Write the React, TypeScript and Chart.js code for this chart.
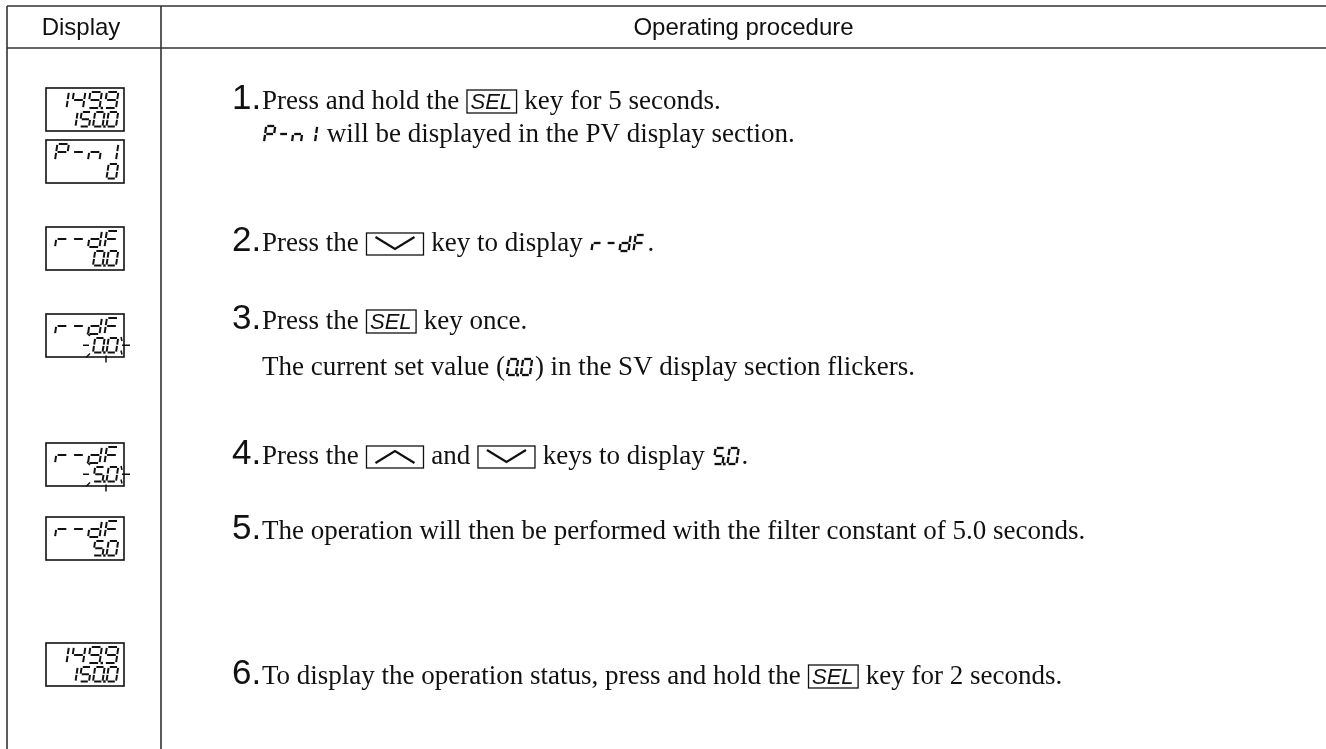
import React, { useEffect, useRef } from "react";
import { Chart, registerables } from "chart.js";

Chart.register(...registerables);

// ---------- content ----------
const columnHeaders = ["Display", "Operating procedure"];
const stepNumbers = ["1", "", "2", "3", "", "4", "5", "6"];

type Tok = [string, string];
const line1a: Tok[] = [["t", "Press and hold the "], ["key", "SEL"], ["t", " key for 5 seconds."]];
const line1b: Tok[] = [["seg", "P-n1"], ["t", " will be displayed in the PV display section."]];
const line2: Tok[] = [["t", "Press the "], ["down", ""], ["t", " key to display "], ["seg", "r-dF"], ["t", "."]];
const line3a: Tok[] = [["t", "Press the "], ["key", "SEL"], ["t", " key once."]];
const line3b: Tok[] = [["t", "The current set value ("], ["seg", "0.0"], ["t", ") in the SV display section flickers."]];
const line4: Tok[] = [["t", "Press the "], ["up", ""], ["t", " and "], ["down", ""], ["t", " keys to display "], ["seg", "5.0"], ["t", "."]];
const line5: Tok[] = [["t", "The operation will then be performed with the filter constant of 5.0 seconds."]];
const line6: Tok[] = [["t", "To display the operation status, press and hold the "], ["key", "SEL"], ["t", " key for 2 seconds."]];
const procedureLines: Tok[][] = [line1a, line1b, line2, line3a, line3b, line4, line5, line6];

const displayTop = ["149.9", "P-n1", "r-dF", "r-dF", "r-dF", "r-dF", "149.9"];
const displayBottom = ["150.0", "0", "0.0", "0.0", "5.0", "5.0", "150.0"];
const displayFlicker = [false, false, false, true, true, false, false];

// ---------- layout (axis units = page pixels) ----------
const PAGE_W = 1326;
const PAGE_H = 749;
const TABLE_LEFT = 7;
const TABLE_TOP = 6;
const HEADER_BOTTOM = 48;
const COL_DIVIDER = 161;
const NUM_X = 232;
const TEXT_X = 262;
const lineBaselines = [109, 142, 251, 329, 375, 464, 539, 684];
const boxTops = [88, 140, 227, 314, 443, 517, 643];
const BOX_LEFT = 46;
const BOX_RIGHT = 124;
const BOX_H = 43;

const SERIF = "'Liberation Serif', 'Times New Roman', serif";
const SANS = "'Liberation Sans', Arial, sans-serif";

const SEGS: Record<string, string> = {
  "0": "abcdef", "1": "bc", "2": "abdeg", "3": "abcdg", "4": "bcfg", "5": "acdfg",
  "6": "acdefg", "7": "abc", "8": "abcdefg", "9": "abcdfg", P: "abefg", "-": "g",
  n: "ceg", r: "eg", d: "bcdeg", F: "aefg",
};
const SEG_PTS: Record<string, number[][]> = {
  a: [[0.12, 0], [0.88, 0]],
  b: [[1, 0.06], [1, 0.45]],
  c: [[1, 0.55], [1, 0.94]],
  d: [[0.12, 1], [0.88, 1]],
  e: [[0, 0.55], [0, 0.94]],
  f: [[0, 0.06], [0, 0.45]],
  g: [[0.12, 0.5], [0.88, 0.5]],
};

type Glyph = { ch: string; dp: boolean };
function parseSeg(s: string): Glyph[] {
  const out: Glyph[] = [];
  for (const ch of s) {
    if (ch === "." && out.length) out[out.length - 1].dp = true;
    else out.push({ ch, dp: false });
  }
  return out;
}

function drawGlyph(ctx: CanvasRenderingContext2D, g: Glyph, x: number, top: number, w: number, h: number, lw: number, k: number) {
  const P = (u: number, v: number) => [x + u * w + (1 - v) * h * k, top + v * h];
  ctx.lineWidth = lw;
  ctx.lineCap = "butt";
  for (const s of SEGS[g.ch] || "") {
    const [[u1, v1], [u2, v2]] = SEG_PTS[s];
    const [x1, y1] = P(u1, v1);
    const [x2, y2] = P(u2, v2);
    ctx.beginPath();
    ctx.moveTo(x1, y1);
    ctx.lineTo(x2, y2);
    ctx.stroke();
  }
  if (g.dp) {
    const [dx, dy] = P(1 + 0.2, 1);
    ctx.fillRect(dx - lw * 0.6, dy - lw * 0.6, lw * 1.2, lw * 1.2);
  }
}

function drawSegRowRight(ctx: CanvasRenderingContext2D, str: string, rightX: number, top: number, w: number, h: number, pitch: number, lw: number, k: number) {
  const gl = parseSeg(str);
  const n = gl.length;
  gl.forEach((g, i) => {
    const x = rightX - (n - i) * pitch + (pitch - w);
    drawGlyph(ctx, g, x, top, w, h, lw, k);
  });
  return { x0: rightX - n * pitch + (pitch - w), x1: rightX };
}

function drawSegInline(ctx: CanvasRenderingContext2D, str: string, x: number, baseline: number) {
  const gl = parseSeg(str);
  const h = 16, w = 9, pitch = 14, k = 0.14;
  gl.forEach((g, i) => drawGlyph(ctx, g, x + 2 + i * pitch, baseline - h, w, h, 2.3, k));
  return gl.length * pitch + 2;
}

const tablePlugin = {
  id: "procedureTable",
  afterDraw(chart: any) {
    const ctx: CanvasRenderingContext2D = chart.ctx;
    const xs = chart.scales.x;
    const ys = chart.scales.y;
    const X = (v: number) => xs.getPixelForValue(v);
    const Y = (v: number) => ys.getPixelForValue(v);
    ctx.save();
    ctx.fillStyle = "#ffffff";
    ctx.fillRect(0, 0, chart.width, chart.height);

    // grid lines
    ctx.strokeStyle = "#333";
    ctx.lineWidth = 1.6;
    const hLine = (y: number) => { ctx.beginPath(); ctx.moveTo(X(TABLE_LEFT), Y(y)); ctx.lineTo(X(PAGE_W), Y(y)); ctx.stroke(); };
    const vLine = (x: number) => { ctx.beginPath(); ctx.moveTo(X(x), Y(TABLE_TOP)); ctx.lineTo(X(x), Y(PAGE_H)); ctx.stroke(); };
    hLine(TABLE_TOP);
    hLine(HEADER_BOTTOM);
    vLine(TABLE_LEFT);
    vLine(COL_DIVIDER);

    // headers
    ctx.fillStyle = "#111";
    ctx.font = `24px ${SANS}`;
    ctx.textAlign = "center";
    ctx.textBaseline = "middle";
    ctx.fillText(columnHeaders[0], X(81), Y((TABLE_TOP + HEADER_BOTTOM) / 2 + 1));
    ctx.fillText(columnHeaders[1], X((COL_DIVIDER + PAGE_W) / 2), Y((TABLE_TOP + HEADER_BOTTOM) / 2 + 1));

    // display boxes
    ctx.strokeStyle = "#111";
    ctx.fillStyle = "#111";
    displayTop.forEach((top, i) => {
      const bt = Y(boxTops[i]);
      const bl = X(BOX_LEFT), br = X(BOX_RIGHT);
      const bh = Y(boxTops[i] + BOX_H) - bt;
      ctx.lineWidth = 1.6;
      ctx.strokeRect(bl, bt, br - bl, bh);
      drawSegRowRight(ctx, top, br - 8, bt + 4, 11.5, 16, 16.5, 2, 0.15);
      const r = drawSegRowRight(ctx, displayBottom[i], br - 8, bt + 24, 9.5, 14.5, 13.5, 2, 0.15);
      if (displayFlicker[i]) {
        const vt = bt + 24, vb = bt + 38.5, mid = (vt + vb) / 2;
        const x0 = r.x0, x1 = r.x1 + 3;
        ctx.lineWidth = 1.5;
        const seg = (a: number, b: number, c: number, d: number) => { ctx.beginPath(); ctx.moveTo(a, b); ctx.lineTo(c, d); ctx.stroke(); };
        seg(x0 - 10, mid, x0 - 4, mid);
        seg(x0 - 6, vt - 5, x0 - 3, vt - 2);
        seg(x0 - 3, vb + 1, x0 - 7, vb + 5);
        seg((x0 + x1) / 2, vb + 3, (x0 + x1) / 2, vb + 10);
        seg(x1 + 3, mid, x1 + 11, mid);
        seg(x1 + 2, vt - 1, x1 + 3, vt + 3);
        seg(x1 + 2, vb - 2, x1 + 3, vb + 2);
      }
    });

    // procedure lines
    ctx.textAlign = "left";
    ctx.textBaseline = "alphabetic";
    procedureLines.forEach((tokens, li) => {
      const base = Y(lineBaselines[li]);
      const num = stepNumbers[li];
      if (num) {
        ctx.font = `35px ${SANS}`;
        ctx.fillText(num + ".", X(NUM_X), base);
      }
      let x = X(TEXT_X);
      for (const [kind, val] of tokens) {
        if (kind === "t") {
          ctx.font = `27px ${SERIF}`;
          ctx.fillText(val, x, base);
          x += ctx.measureText(val).width;
        } else if (kind === "key") {
          ctx.font = `italic 22px ${SANS}`;
          const tw = ctx.measureText(val).width;
          const bw = tw + 8;
          x += 1;
          ctx.lineWidth = 1.3;
          ctx.strokeRect(x, base - 19, bw, 23);
          ctx.fillText(val, x + 3.5, base);
          x += bw + 1;
        } else if (kind === "up" || kind === "down") {
          const bw = 57, bh = 22;
          x += 1;
          ctx.lineWidth = 1.3;
          ctx.strokeRect(x, base - 18, bw, bh);
          ctx.lineWidth = 2.2;
          ctx.beginPath();
          if (kind === "down") {
            ctx.moveTo(x + 9, base - 14);
            ctx.lineTo(x + bw / 2, base - 2);
            ctx.lineTo(x + bw - 9, base - 14);
          } else {
            ctx.moveTo(x + 9, base - 1);
            ctx.lineTo(x + bw / 2, base - 13);
            ctx.lineTo(x + bw - 9, base - 1);
          }
          ctx.stroke();
          x += bw + 1;
        } else if (kind === "seg") {
          x += drawSegInline(ctx, val, x, base);
        }
      }
    });
    ctx.restore();
  },
};

export default function App() {
  const ref = useRef<HTMLCanvasElement | null>(null);
  useEffect(() => {
    document.body.style.margin = "0";
    const canvas = ref.current!;
    const chart = new Chart(canvas, {
      type: "scatter",
      data: { datasets: [{ data: [], pointRadius: 0 }] },
      options: {
        animation: false,
        responsive: false,
        devicePixelRatio: 1,
        layout: { padding: 0 },
        plugins: { legend: { display: false }, tooltip: { enabled: false } },
        scales: {
          x: { type: "linear", min: 0, max: PAGE_W, display: false },
          y: { type: "linear", min: 0, max: PAGE_H, reverse: true, display: false },
        },
      },
      plugins: [tablePlugin],
    });
    return () => chart.destroy();
  }, []);
  return (
    <div style={{ position: "fixed", left: 0, top: 0, width: PAGE_W, height: PAGE_H, background: "#fff" }}>
      <canvas ref={ref} width={PAGE_W} height={PAGE_H} style={{ display: "block" }} />
    </div>
  );
}
